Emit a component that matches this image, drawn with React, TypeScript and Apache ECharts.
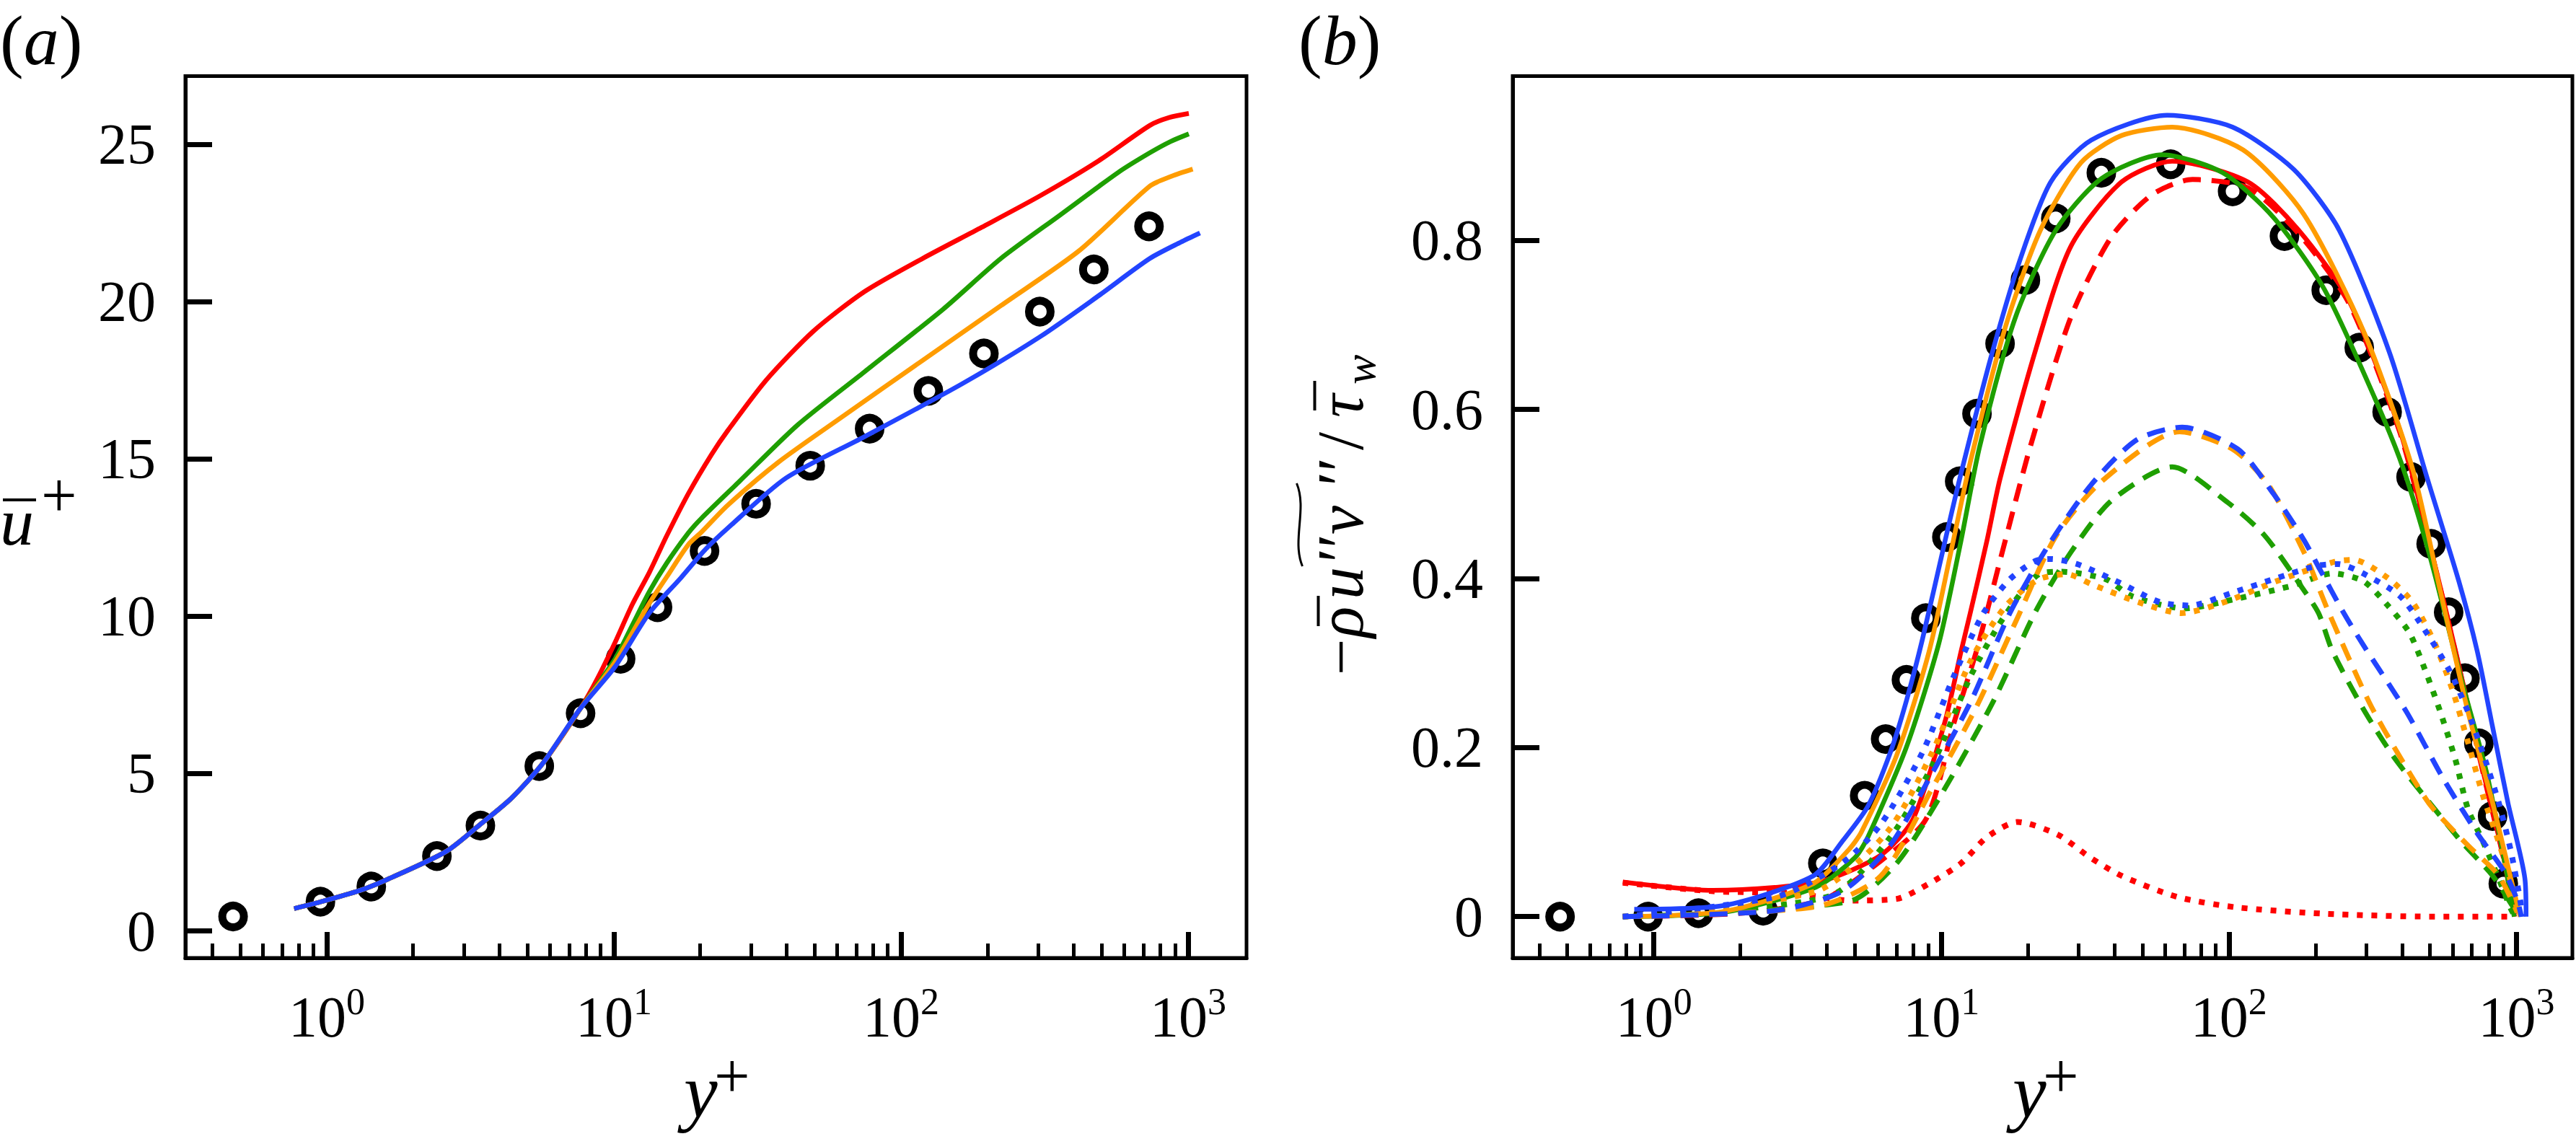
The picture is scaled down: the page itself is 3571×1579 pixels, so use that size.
import React, { useEffect, useRef } from "react";
import * as echarts from "echarts";

const FONT = "Liberation Serif";
const RED = "#ff0000";
const ORANGE = "#ff9c00";
const GREEN = "#1e9f00";
const BLUE = "#2244ff";

// ---------------- panel (a): mean velocity u+ vs y+ ----------------
const aDnsX = [0.472, 0.951, 1.43, 2.42, 3.43, 5.5, 7.66, 10.56, 14.2, 20.7, 31.3, 48.3, 77.8, 124.6, 194.5, 304.5, 469.7, 731];
const aDnsU = [0.46, 0.93, 1.41, 2.38, 3.35, 5.24, 6.92, 8.65, 10.29, 12.08, 13.58, 14.79, 15.97, 17.17, 18.36, 19.69, 21.03, 22.4];

const aRedX = [0.77, 0.95, 1.3, 1.63, 2.6, 3.44, 4.41, 5.65, 7.66, 8.8, 10.1, 11.6, 13.3, 15.3, 18.2, 21.9, 24.9, 34.0, 49.6, 74.5, 119, 191, 305, 489, 736, 860, 1006];
const aRedU = [0.71, 0.92, 1.28, 1.64, 2.52, 3.4, 4.23, 5.32, 7.08, 8.05, 9.17, 10.38, 11.4, 12.57, 13.91, 15.15, 15.9, 17.52, 19.07, 20.32, 21.38, 22.37, 23.37, 24.49, 25.61, 25.86, 25.99];

const aGreenX = [0.77, 0.95, 1.3, 1.63, 2.6, 3.44, 4.41, 5.65, 7.66, 10.1, 11.6, 13.3, 15.3, 18.2, 20.2, 27.3, 43.7, 74.5, 140, 223, 357, 572, 736, 870, 1006];
const aGreenU = [0.71, 0.92, 1.28, 1.64, 2.52, 3.4, 4.23, 5.32, 7.08, 8.65, 9.72, 10.79, 11.7, 12.66, 13.12, 14.28, 16.09, 17.77, 19.76, 21.38, 22.75, 24.12, 24.74, 25.1, 25.34];

const aOrangeX = [0.77, 0.95, 1.3, 1.63, 2.6, 3.44, 4.41, 5.65, 7.66, 10.1, 13.3, 15.3, 18.2, 20.2, 24.9, 37.4, 63.7, 119, 223, 418, 736, 880, 1038];
const aOrangeU = [0.71, 0.92, 1.28, 1.64, 2.52, 3.4, 4.23, 5.32, 7.08, 8.55, 10.42, 11.26, 12.29, 12.68, 13.53, 14.9, 16.4, 18.14, 19.88, 21.63, 23.68, 24.0, 24.22];

const aBlueX = [0.77, 0.95, 1.3, 1.63, 2.6, 3.44, 4.41, 5.65, 7.66, 10.1, 13.3, 17.1, 20.7, 24.9, 39.8, 74.5, 163, 305, 489, 736, 944, 1100];
const aBlueU = [0.71, 0.92, 1.28, 1.64, 2.52, 3.4, 4.23, 5.32, 7.08, 8.4, 10.11, 11.22, 12.1, 12.8, 14.4, 15.71, 17.39, 18.89, 20.2, 21.38, 21.9, 22.19];

// ---------------- panel (b): Reynolds shear stress ----------------
const bDnsX = [0.472, 0.955, 1.43, 2.4, 3.87, 5.41, 6.4, 7.56, 8.83, 10.45, 11.58, 13.3, 16.0, 19.6, 25.0, 36.0, 62.7, 103, 156, 218, 284, 355, 430, 505, 581, 662, 740, 826, 900];
const bDnsV = [0.0, 0.0, 0.004, 0.007, 0.063, 0.143, 0.21, 0.28, 0.353, 0.449, 0.515, 0.595, 0.678, 0.753, 0.826, 0.88, 0.89, 0.858, 0.805, 0.741, 0.673, 0.597, 0.52, 0.441, 0.36, 0.282, 0.205, 0.119, 0.039];

// red
const bRedSolidX = [0.78, 1.61, 2.63, 3.87, 6.15, 7.96, 10.3, 11.7, 12.6, 14.4, 16.0, 21.3, 28.2, 42.3, 63.5, 116.6, 174.8, 262, 393, 500, 614, 767, 912, 985];
const bRedSolidV = [0.041, 0.031, 0.0345, 0.042, 0.0726, 0.115, 0.231, 0.3134, 0.359, 0.4445, 0.518, 0.671, 0.793, 0.869, 0.8937, 0.869, 0.812, 0.728, 0.5756, 0.44, 0.3143, 0.1706, 0.0627, 0.0];
const bRedDashX = [0.78, 2.0, 3.87, 5.84, 8.83, 11.1, 13.3, 16.4, 20.4, 28.2, 39.0, 54.0, 74.7, 116.6, 174.8, 262, 393, 500, 614, 767, 912, 985];
const bRedDashV = [0.0, 0.004, 0.02, 0.06, 0.115, 0.231, 0.3164, 0.4353, 0.5565, 0.709, 0.804, 0.854, 0.872, 0.862, 0.808, 0.725, 0.573, 0.438, 0.312, 0.169, 0.062, 0.0];
const bRedDotX = [0.78, 1.61, 2.84, 3.67, 4.76, 7.0, 9.06, 11.7, 14.4, 18.4, 25.4, 32.9, 42.5, 66.6, 106, 213, 504, 980];
const bRedDotV = [0.04, 0.03, 0.028, 0.024, 0.019, 0.021, 0.039, 0.063, 0.094, 0.112, 0.097, 0.07, 0.048, 0.023, 0.011, 0.0035, 0.0, 0.0];

// green
const bGreenSolidX = [0.78, 1.74, 3.67, 5.0, 5.55, 7.56, 9.79, 11.7, 13.6, 18.1, 25.0, 36.0, 58.6, 95.2, 143, 214, 321, 404, 504, 646, 787, 912, 982];
const bGreenSolidV = [0.0, 0.005, 0.035, 0.0696, 0.094, 0.2006, 0.3226, 0.4445, 0.5565, 0.709, 0.812, 0.873, 0.9014, 0.88, 0.827, 0.743, 0.614, 0.53, 0.422, 0.2784, 0.1706, 0.0627, 0.0];
const bGreenDashX = [0.78, 4.76, 7.0, 10.3, 15.2, 21.2, 28.2, 39.0, 63.5, 99, 133, 179, 205, 229, 293, 375, 480, 646, 826, 982];
const bGreenDashV = [0.0, 0.0177, 0.0634, 0.152, 0.2555, 0.36, 0.431, 0.492, 0.532, 0.49, 0.451, 0.39, 0.359, 0.3143, 0.246, 0.1885, 0.1418, 0.088, 0.0484, 0.009];
const bGreenDotX = [0.78, 4.07, 6.65, 9.3, 12.7, 16.4, 21.8, 26.1, 37.4, 46.0, 70.0, 104, 166, 229, 293, 357, 424, 480, 543, 614, 678, 767, 868, 957, 990];
const bGreenDotV = [0.0, 0.024, 0.094, 0.179, 0.286, 0.353, 0.405, 0.408, 0.399, 0.379, 0.3646, 0.3753, 0.3915, 0.406, 0.397, 0.368, 0.336, 0.2927, 0.2425, 0.185, 0.1274, 0.088, 0.0448, 0.009, 0.0];

// orange
const bOrangeSolidX = [0.78, 1.74, 3.58, 4.76, 5.27, 7.0, 9.06, 11.0, 12.6, 16.7, 22.1, 30.6, 42.3, 63.5, 112, 182, 296, 435, 543, 678, 826, 957, 1030];
const bOrangeSolidV = [0.0, 0.006, 0.039, 0.079, 0.1, 0.1915, 0.3134, 0.4445, 0.5375, 0.6975, 0.812, 0.892, 0.924, 0.934, 0.907, 0.831, 0.69, 0.53, 0.386, 0.2425, 0.1346, 0.0448, 0.0];
const bOrangeDashX = [0.78, 3.67, 6.15, 9.3, 13.3, 18.2, 25.0, 36.0, 67.4, 103, 137, 183, 223, 308, 394, 504, 678, 868, 1006];
const bOrangeDashV = [0.0, 0.0117, 0.048, 0.152, 0.2494, 0.35, 0.45, 0.5146, 0.5737, 0.553, 0.511, 0.43, 0.359, 0.253, 0.1885, 0.131, 0.0843, 0.0484, 0.005];
const bOrangeDotX = [0.78, 3.67, 6.48, 9.3, 12.7, 16.8, 21.8, 27.4, 33.4, 48.4, 68.3, 96.5, 146.8, 234, 272, 357, 435, 517, 600, 678, 767, 868, 982, 1010];
const bOrangeDotV = [0.0, 0.03, 0.1, 0.1945, 0.304, 0.368, 0.399, 0.405, 0.393, 0.372, 0.359, 0.372, 0.397, 0.42, 0.422, 0.4005, 0.372, 0.325, 0.2675, 0.2065, 0.1418, 0.088, 0.0268, 0.0];

// blue
const bBlueSolidX = [0.855, 1.74, 3.58, 4.52, 5.55, 6.65, 7.56, 8.6, 10.3, 11.58, 14.8, 18.8, 24.0, 33.2, 61.0, 103, 168, 242, 362, 490, 630, 730, 826, 934, 1070, 1080];
const bBlueSolidV = [0.0086, 0.013, 0.048, 0.089, 0.1305, 0.1945, 0.2555, 0.3286, 0.4445, 0.518, 0.659, 0.7776, 0.869, 0.9186, 0.948, 0.934, 0.884, 0.812, 0.667, 0.518, 0.397, 0.3143, 0.2244, 0.1346, 0.0448, 0.0];
const bBlueDashX = [0.78, 2.63, 4.52, 6.65, 9.3, 12.7, 17.3, 23.5, 33.2, 47.8, 68.8, 107.5, 143, 182, 207, 251, 293, 414, 557, 730, 912, 1006, 1040];
const bBlueDashV = [0.0, 0.007, 0.03, 0.0848, 0.17, 0.2555, 0.359, 0.4385, 0.511, 0.564, 0.579, 0.553, 0.5, 0.446, 0.411, 0.359, 0.3215, 0.2425, 0.163, 0.0987, 0.052, 0.0196, 0.0];
const bBlueDotX = [0.78, 2.7, 4.52, 6.15, 8.6, 11.1, 14.0, 17.3, 21.3, 24.1, 29.7, 41.7, 57.5, 73.5, 101.4, 146.8, 202, 240, 293, 394, 480, 585, 678, 767, 868, 957, 1030, 1050];
const bBlueDotV = [0.0, 0.024, 0.0634, 0.109, 0.1945, 0.286, 0.359, 0.399, 0.421, 0.423, 0.417, 0.395, 0.372, 0.368, 0.3825, 0.4005, 0.415, 0.417, 0.406, 0.379, 0.339, 0.291, 0.2425, 0.192, 0.1346, 0.077, 0.0196, 0.0];

// ---------------- ticks ----------------
const xMajorTicks = [1, 10, 100, 1000];
const xMinorTicks = [0.4, 0.5, 0.6, 0.7, 0.8, 0.9, 2, 3, 4, 5, 6, 7, 8, 9, 20, 30, 40, 50, 60, 70, 80, 90, 200, 300, 400, 500, 600, 700, 800, 900];
const aYTicks = [0, 5, 10, 15, 20, 25];
const bYTicks = [0, 0.2, 0.4, 0.6, 0.8];

const zip = (xs: number[], ys: number[]) => xs.map((x, i) => [x, ys[i]]);

const DASH = [25, 15];
const DOT = [8, 12];

function line(xi: number, yi: number, xs: number[], ys: number[], color: string, type: any, width: number) {
  return {
    type: "line",
    xAxisIndex: xi,
    yAxisIndex: yi,
    data: zip(xs, ys),
    showSymbol: false,
    symbol: "none",
    smooth: 0.25,
    silent: true,
    z: 3,
    lineStyle: { color, width, type, cap: "butt", join: "round", opacity: 1 },
  };
}

function dns(xi: number, yi: number, xs: number[], ys: number[]) {
  return {
    type: "scatter",
    xAxisIndex: xi,
    yAxisIndex: yi,
    data: zip(xs, ys),
    symbol: "circle",
    symbolSize: 30,
    silent: true,
    z: 2,
    itemStyle: { color: "#ffffff", borderColor: "#000000", borderWidth: 11, opacity: 1 },
  };
}

function xMajor(gridIndex: number, min: number, max: number) {
  return {
    type: "log",
    logBase: 10,
    gridIndex,
    min,
    max,
    position: "bottom",
    axisLine: { show: true, onZero: false, lineStyle: { color: "#000", width: 5 } },
    axisTick: { show: true, inside: true, length: 36, customValues: xMajorTicks, lineStyle: { color: "#000", width: 7 } },
    minorTick: { show: false },
    splitLine: { show: false },
    axisLabel: {
      show: true,
      customValues: xMajorTicks,
      margin: 34,
      color: "#000",
      fontFamily: FONT,
      fontSize: 80,
      formatter: (v: number) => `{b|10}{s|${Math.round(Math.log10(v))}}`,
      rich: {
        b: { fontSize: 80, fontFamily: FONT, color: "#000", lineHeight: 96 },
        s: { fontSize: 52, fontFamily: FONT, color: "#000", lineHeight: 52, verticalAlign: "top" },
      },
    },
  };
}

function xMinor(gridIndex: number, min: number, max: number) {
  return {
    type: "log",
    logBase: 10,
    gridIndex,
    min,
    max,
    position: "bottom",
    axisLine: { show: false, onZero: false },
    axisTick: { show: true, inside: true, length: 20, customValues: xMinorTicks, lineStyle: { color: "#000", width: 5 } },
    minorTick: { show: false },
    splitLine: { show: false },
    axisLabel: { show: false },
  };
}

function yAxis(gridIndex: number, min: number, max: number, ticks: number[], fmt: (v: number) => string) {
  return {
    type: "value",
    gridIndex,
    min,
    max,
    position: "left",
    axisLine: { show: true, onZero: false, lineStyle: { color: "#000", width: 5 } },
    axisTick: { show: true, inside: true, length: 37, customValues: ticks, lineStyle: { color: "#000", width: 7 } },
    minorTick: { show: false },
    splitLine: { show: false },
    axisLabel: { show: true, customValues: ticks, margin: 41, fontSize: 80, fontFamily: FONT, color: "#000", formatter: fmt },
  };
}

function txt(text: string, x: number, y: number, fontSize: number, italic: boolean, align = "left") {
  return {
    type: "text",
    x,
    y,
    silent: true,
    style: {
      text,
      fontSize,
      fontFamily: FONT,
      fontStyle: italic ? "italic" : "normal",
      fill: "#000",
      align,
      verticalAlign: "middle",
      textAlign: align,
      textVerticalAlign: "middle",
    },
  };
}

function bar(x1: number, y1: number, x2: number, y2: number, w: number) {
  return { type: "line", silent: true, shape: { x1, y1, x2, y2 }, style: { stroke: "#000", lineWidth: w } };
}

function panelTag(letter: string, x: number) {
  return {
    type: "text",
    x,
    y: 56,
    silent: true,
    style: {
      text: `{n|(}{i|${letter}}{n|)}`,
      fill: "#000",
      align: "left",
      verticalAlign: "middle",
      rich: {
        n: { fontSize: 98, fontFamily: FONT, fill: "#000", lineHeight: 100 },
        i: { fontSize: 98, fontFamily: FONT, fontStyle: "italic", fill: "#000", lineHeight: 100 },
      },
    },
  };
}

function yPlus(xLeft: number) {
  return [txt("y", xLeft, 1512, 105, true), txt("+", xLeft + 42, 1491, 88, false)];
}

export default function App() {
  const ref = useRef<HTMLDivElement>(null);
  useEffect(() => {
    if (!ref.current) return;
    const chart = echarts.init(ref.current, undefined, { renderer: "svg" });

    const graphic: any[] = [
      panelTag("a", 0),
      panelTag("b", 1800),
      // u-bar plus label
      txt("u", 0, 723, 94, true),
      bar(4, 693, 50, 693, 4),
      txt("+", 57, 686, 88, false),
      ...yPlus(948),
      ...yPlus(2790),
      // rotated label of panel (b)
      {
        type: "group",
        x: 1858.5,
        y: 709,
        rotation: Math.PI / 2,
        silent: true,
        children: [
          txt("\u2212", -227, 0, 90, false),
          txt("\u03c1", -175, 0, 90, true),
          txt("u", -122, 0, 90, true),
          txt("\u2032\u2032", -76, 0, 90, true),
          txt("v", -32, 0, 90, true),
          txt("\u2032\u2032", 30, 0, 90, true),
          txt("/", 85, 0, 90, false),
          txt("\u03c4", 130, 0, 90, true),
          txt("w", 176, 26, 62, true),
          bar(-159, -31, -117, -31, 4),
          bar(140, -36, 181, -36, 4),
          {
            type: "bezierCurve",
            shape: { x1: -76, y1: -53, cpx1: -40, cpy1: -68, cpx2: 3, cpy2: -46, x2: 39, y2: -61 },
            style: { stroke: "#000", lineWidth: 3, fill: null },
          },
        ],
      },
    ];

    const option: any = {
      animation: false,
      backgroundColor: "#ffffff",
      textStyle: { fontFamily: FONT },
      grid: [
        { left: 257, top: 105.4, width: 1471, height: 1222.6, show: true, borderColor: "#000", borderWidth: 5, backgroundColor: "transparent", containLabel: false },
        { left: 2097, top: 105.4, width: 1469, height: 1222.6, show: true, borderColor: "#000", borderWidth: 5, backgroundColor: "transparent", containLabel: false },
      ],
      xAxis: [xMajor(0, 0.322, 1598), xMinor(0, 0.322, 1598), xMajor(1, 0.323, 1565), xMinor(1, 0.323, 1565)],
      yAxis: [
        yAxis(0, -0.86, 27.18, aYTicks, (v) => String(Math.round(v))),
        yAxis(1, -0.0489, 0.9944, bYTicks, (v) => (Math.abs(v) < 1e-9 ? "0" : v.toFixed(1))),
      ],
      graphic,
      series: [
        dns(0, 0, aDnsX, aDnsU),
        line(0, 0, aRedX, aRedU, RED, "solid", 6.5),
        line(0, 0, aGreenX, aGreenU, GREEN, "solid", 6.5),
        line(0, 0, aOrangeX, aOrangeU, ORANGE, "solid", 6.5),
        line(0, 0, aBlueX, aBlueU, BLUE, "solid", 6.5),

        dns(2, 1, bDnsX, bDnsV),
        line(2, 1, bRedSolidX, bRedSolidV, RED, "solid", 6.5),
        line(2, 1, bRedDashX, bRedDashV, RED, DASH, 7),
        line(2, 1, bRedDotX, bRedDotV, RED, DOT, 8),
        line(2, 1, bGreenSolidX, bGreenSolidV, GREEN, "solid", 6.5),
        line(2, 1, bGreenDashX, bGreenDashV, GREEN, DASH, 7),
        line(2, 1, bGreenDotX, bGreenDotV, GREEN, DOT, 8),
        line(2, 1, bOrangeSolidX, bOrangeSolidV, ORANGE, "solid", 6.5),
        line(2, 1, bOrangeDashX, bOrangeDashV, ORANGE, DASH, 7),
        line(2, 1, bOrangeDotX, bOrangeDotV, ORANGE, DOT, 8),
        line(2, 1, bBlueSolidX, bBlueSolidV, BLUE, "solid", 6.5),
        line(2, 1, bBlueDashX, bBlueDashV, BLUE, DASH, 7),
        line(2, 1, bBlueDotX, bBlueDotV, BLUE, DOT, 8),
      ],
    };
    chart.setOption(option);
    return () => chart.dispose();
  }, []);
  return (
    <div
      ref={ref}
      style={{ position: "absolute", left: 0, top: 0, width: 3571, height: 1579, background: "#fff" }}
    />
  );
}
